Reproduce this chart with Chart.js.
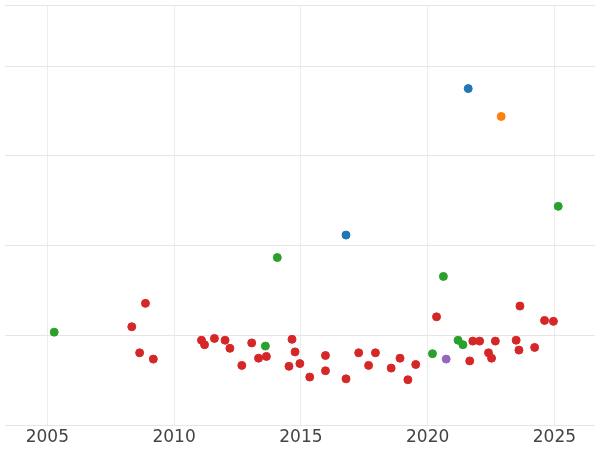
<!DOCTYPE html>
<html>
<head>
<meta charset="utf-8">
<script src="https://cdn.jsdelivr.net/npm/chart.js@4"></script>
<style>
  html, body { margin: 0; padding: 0; background: #fff; }
  #wrap { width: 600px; height: 450px; }
</style>
</head>
<body>
<div id="wrap"><canvas id="scatter"></canvas></div>
<script>
// points as [year, value]
const redPoints = [
  [2008.33, 1.10], [2008.87, 1.36], [2008.64, 0.81], [2009.18, 0.74],
  [2011.08, 0.95], [2011.2, 0.90], [2011.59, 0.97], [2012.01, 0.95],
  [2012.2, 0.86], [2012.67, 0.67], [2013.06, 0.92], [2013.33, 0.75],
  [2013.64, 0.77], [2014.53, 0.66], [2014.65, 0.96], [2014.77, 0.82],
  [2014.96, 0.69], [2015.35, 0.54], [2015.97, 0.78], [2015.97, 0.61],
  [2016.78, 0.52], [2017.28, 0.81], [2017.67, 0.67], [2017.94, 0.81],
  [2018.56, 0.64], [2018.91, 0.75], [2019.22, 0.51], [2019.53, 0.68],
  [2020.35, 1.21], [2021.66, 0.72], [2021.78, 0.94], [2022.05, 0.94],
  [2022.4, 0.81], [2022.52, 0.75], [2022.67, 0.94], [2023.49, 0.95],
  [2023.6, 0.84], [2023.64, 1.33], [2024.22, 0.87], [2024.61, 1.17],
  [2024.96, 1.16]
];
const greenPoints = [
  [2005.27, 1.04], [2014.07, 1.87], [2013.6, 0.885], [2020.62, 1.66],
  [2020.19, 0.80], [2021.2, 0.95], [2021.39, 0.90], [2025.15, 2.44]
];
const bluePoints = [[2021.6, 3.75], [2016.78, 2.12]];
const orangePoints = [[2022.9, 3.44]];
const purplePoints = [[2020.73, 0.74]];
const yearTicks = [2005, 2010, 2015, 2020, 2025];

function toXY(list) {
  return list.map(p => ({ x: p[0], y: p[1] }));
}
function series(list, color) {
  return {
    data: toXY(list),
    backgroundColor: color,
    borderColor: color,
    pointRadius: 4,
    pointHoverRadius: 4
  };
}

const ctx = document.getElementById('scatter').getContext('2d');
new Chart(ctx, {
  type: 'scatter',
  data: {
    datasets: [
      series(redPoints, '#d62728'),
      series(greenPoints, '#2ca02c'),
      series(bluePoints, '#1f77b4'),
      series(orangePoints, '#ff7f0e'),
      series(purplePoints, '#9467bd')
    ]
  },
  options: {
    responsive: true,
    maintainAspectRatio: false,
    animation: false,
    layout: { padding: 0 },
    plugins: { legend: { display: false }, tooltip: { enabled: false } },
    scales: {
      x: {
        type: 'linear',
        min: 2003.33,
        max: 2026.6,
        afterBuildTicks: axis => { axis.ticks = yearTicks.map(v => ({ value: v })); },
        ticks: {
          callback: v => String(v),
          color: '#444',
          font: { family: 'DejaVu Sans', size: 17 },
          padding: 2,
          maxRotation: 0
        },
        grid: { color: '#ececec', drawTicks: false },
        border: { display: false }
      },
      y: {
        min: 0,
        max: 4.68,
        ticks: { display: false, stepSize: 1 },
        grid: { color: '#e6e6e6', drawTicks: false },
        border: { display: false }
      }
    }
  }
});
</script>
</body>
</html>
